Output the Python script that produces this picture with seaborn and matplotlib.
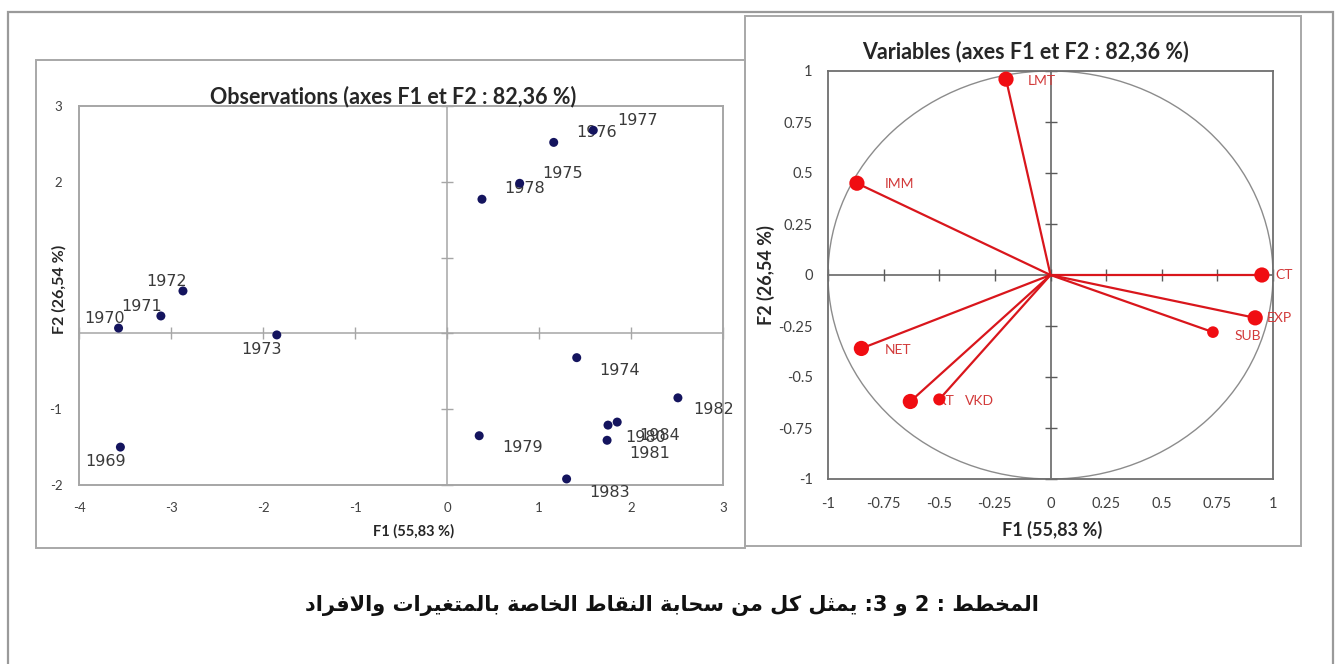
import matplotlib
matplotlib.use("Agg")
import matplotlib.pyplot as plt
from matplotlib.patches import Rectangle, Ellipse
import numpy as np
import pandas as pd
import seaborn as sns

# ---- Observations on the first factorial plane (F1, F2) ----
years = ["1969", "1970", "1971", "1972", "1973", "1974", "1975", "1976",
         "1977", "1978", "1979", "1980", "1981", "1982", "1983", "1984"]
obs_f1 = [-3.55, -3.57, -3.11, -2.87, -1.85, 1.41, 0.79, 1.16,
          1.59, 0.38, 0.35, 1.75, 1.74, 2.51, 1.30, 1.85]
obs_f2 = [-1.50, 0.07, 0.23, 0.56, -0.02, -0.32, 1.98, 2.52,
          2.68, 1.77, -1.35, -1.21, -1.41, -0.85, -1.92, -1.17]

# ---- Variables on the correlation circle ----
var_names = ["LMT", "IMM", "CT", "EXP", "SUB", "NET", "RT", "VKD"]
var_f1 = [-0.20, -0.87, 0.95, 0.92, 0.73, -0.85, -0.63, -0.50]
var_f2 = [0.96, 0.45, 0.00, -0.21, -0.28, -0.36, -0.62, -0.61]

obs_xticks = [-4, -3, -2, -1, 0, 1, 2, 3]
obs_yticks = [-2, -1, 0, 1, 2, 3]
# the y-axis title sits over the 0 and 1 labels, so those stay blank
obs_ytick_labels = ["-2", "-1", "", "", "2", "3"]
var_ticks = [-1, -0.75, -0.5, -0.25, 0, 0.25, 0.5, 0.75, 1]
var_tick_labels = ["-1", "-0.75", "-0.5", "-0.25", "0", "0.25", "0.5", "0.75", "1"]

title_obs = "Observations (axes F1 et F2 : 82,36 %)"
title_var = "Variables (axes F1 et F2 : 82,36 %)"
xlabel = "F1 (55,83 %)"
ylabel = "F2 (26,54 %)"
caption = "المخطط : 2 و 3: يمثل كل من سحابة النقاط الخاصة بالمتغيرات والافراد"

# label placement (pixel offsets from each point)
obs_label_offsets = [(-15, -14), (-14, 10), (-19, 9), (-16, 9), (-15, -15),
                     (43, -13), (43, 10), (43, 10), (44, 10), (43, 11),
                     (43, -12), (38, -12), (43, -13), (36, -12), (43, -14),
                     (42, -13)]
var_label_offsets = [(22, -2), (28, -1), (13, 0), (12, 0), (22, -4),
                     (23, -2), (27, 0), (26, -2)]
var_marker_sizes = [120, 120, 120, 120, 70, 120, 120, 75]

# ---- Arabic contextual shaping for the caption ----
_FORMS = {
    "\u0627": (0xFE8D, 0xFE8E),
    "\u0628": (0xFE8F, 0xFE90, 0xFE91, 0xFE92),
    "\u0629": (0xFE93, 0xFE94),
    "\u062A": (0xFE95, 0xFE96, 0xFE97, 0xFE98),
    "\u062B": (0xFE99, 0xFE9A, 0xFE9B, 0xFE9C),
    "\u062D": (0xFEA1, 0xFEA2, 0xFEA3, 0xFEA4),
    "\u062E": (0xFEA5, 0xFEA6, 0xFEA7, 0xFEA8),
    "\u062F": (0xFEA9, 0xFEAA),
    "\u0631": (0xFEAD, 0xFEAE),
    "\u0633": (0xFEB1, 0xFEB2, 0xFEB3, 0xFEB4),
    "\u0635": (0xFEB9, 0xFEBA, 0xFEBB, 0xFEBC),
    "\u0637": (0xFEC1, 0xFEC2, 0xFEC3, 0xFEC4),
    "\u063A": (0xFECD, 0xFECE, 0xFECF, 0xFED0),
    "\u0641": (0xFED1, 0xFED2, 0xFED3, 0xFED4),
    "\u0642": (0xFED5, 0xFED6, 0xFED7, 0xFED8),
    "\u0643": (0xFED9, 0xFEDA, 0xFEDB, 0xFEDC),
    "\u0644": (0xFEDD, 0xFEDE, 0xFEDF, 0xFEE0),
    "\u0645": (0xFEE1, 0xFEE2, 0xFEE3, 0xFEE4),
    "\u0646": (0xFEE5, 0xFEE6, 0xFEE7, 0xFEE8),
    "\u0648": (0xFEED, 0xFEEE),
    "\u064A": (0xFEF1, 0xFEF2, 0xFEF3, 0xFEF4),
}


def shape_arabic(text):
    def dual(c):
        return c in _FORMS and len(_FORMS[c]) == 4

    out, i, n = [], 0, len(text)
    while i < n:
        c = text[i]
        if c not in _FORMS:
            out.append(c)
            i += 1
            continue
        link_prev = i > 0 and dual(text[i - 1])
        if c == "\u0644" and i + 1 < n and text[i + 1] == "\u0627":
            out.append(chr(0xFEFC if link_prev else 0xFEFB))
            i += 2
            continue
        link_next = dual(c) and i + 1 < n and text[i + 1] in _FORMS
        f = _FORMS[c]
        if link_prev and link_next:
            g = f[3]
        elif link_prev:
            g = f[1]
        elif link_next:
            g = f[2]
        else:
            g = f[0]
        out.append(chr(g))
        i += 1
    return "".join(reversed(out))


sns.set_style("white")
plt.rcParams["font.family"] = ["Lato", "DejaVu Sans"]
plt.rcParams["axes.unicode_minus"] = False

W, H = 1336, 664
fig = plt.figure(figsize=(W / 100, H / 100), dpi=100)
fig.patch.set_facecolor("white")


def fbox(x0, y0, x1, y1):
    return [x0 / W, 1 - y1 / H, (x1 - x0) / W, (y1 - y0) / H]


def frame(x0, y0, x1, y1, color, lw):
    fig.patches.append(Rectangle((x0 / W, 1 - y1 / H), (x1 - x0) / W, (y1 - y0) / H,
                                 transform=fig.transFigure, fill=False,
                                 edgecolor=color, linewidth=lw, zorder=0))


# page and chart boxes
frame(8, 12, 1333, 700, "#9a9a9a", 1.6)
frame(36, 60, 745, 548, "#a8a8a8", 1.4)
frame(745, 16, 1301, 546, "#a8a8a8", 1.4)


def cross_axes(ax, xticks, yticks, xlim, ylim, color, length):
    """Draw the zero axes with crossing tick marks, Excel style."""
    fy = (0 - ylim[0]) / (ylim[1] - ylim[0])
    fx = (0 - xlim[0]) / (xlim[1] - xlim[0])
    sx = ax.secondary_xaxis(fy)
    sx.set_xticks(xticks)
    sx.tick_params(direction="inout", length=length, width=1, color=color,
                   labelbottom=False, labeltop=False)
    for s in sx.spines.values():
        s.set_color(color)
        s.set_linewidth(1.1)
    sy = ax.secondary_yaxis(fx)
    sy.set_yticks(yticks)
    sy.tick_params(direction="inout", length=length, width=1, color=color,
                   labelleft=False, labelright=False)
    for s in sy.spines.values():
        s.set_color(color)
        s.set_linewidth(1.1)


# ================= Observations =================
ax1 = fig.add_axes(fbox(79, 106, 723, 485))
obs_df = pd.DataFrame({"year": years, "F1": obs_f1, "F2": obs_f2})
xl1, yl1 = (-4, 3), (-2, 3)
ax1.set_xlim(*xl1)
ax1.set_ylim(*yl1)
sns.scatterplot(data=obs_df, x="F1", y="F2", ax=ax1, color="#14145e",
                s=42, edgecolor="none", zorder=4, legend=False)
for (yr, x, y), off in zip(obs_df[["year", "F1", "F2"]].itertuples(index=False),
                           obs_label_offsets):
    ax1.annotate(yr, (x, y), xytext=off, textcoords="offset pixels",
                 ha="center", va="center", fontsize=11.5, color="#3a3a3a",
                 family="DejaVu Sans", zorder=3)
ax1.set_xticks(obs_xticks)
ax1.set_yticks(obs_yticks)
ax1.set_yticklabels(obs_ytick_labels)
ax1.tick_params(length=0, labelsize=9.5, labelcolor="#404040", pad=12)
for s in ax1.spines.values():
    s.set_color("#a6a6a6")
    s.set_linewidth(1.4)
cross_axes(ax1, obs_xticks, obs_yticks, xl1, yl1, "#a6a6a6", 8)
ax1.set_xlabel("")
ax1.set_ylabel("")
ax1.text(0.488, 1.024, title_obs, transform=ax1.transAxes, ha="center",
         va="center", fontsize=15.5, fontweight="bold", color="#262626")
ax1.text(0.519, -0.121, xlabel, transform=ax1.transAxes, ha="center",
         va="center", fontsize=10.5, fontweight="bold", color="#262626")
ax1.text(-0.030, 0.515, ylabel, transform=ax1.transAxes, ha="center",
         va="center", rotation=90, fontsize=11.5, fontweight="bold",
         color="#262626")

# ================= Variables =================
ax2 = fig.add_axes(fbox(828, 71, 1273, 479))
var_df = pd.DataFrame({"name": var_names, "F1": var_f1, "F2": var_f2,
                       "size": var_marker_sizes})
xl2, yl2 = (-1, 1), (-1, 1)
ax2.set_xlim(*xl2)
ax2.set_ylim(*yl2)
ax2.add_patch(Ellipse((0, 0), 2, 2, fill=False, edgecolor="#8c8c8c",
                      linewidth=1.0, zorder=2))
for x, y in zip(var_df["F1"], var_df["F2"]):
    ax2.plot([0, x], [0, y], color="#d9161c", linewidth=1.6, zorder=3,
             solid_capstyle="round")
sns.scatterplot(data=var_df, x="F1", y="F2", size="size", sizes=(70, 120),
                ax=ax2, color="#f00d12", edgecolor="none", zorder=5, legend=False)
for (nm, x, y), off in zip(var_df[["name", "F1", "F2"]].itertuples(index=False),
                           var_label_offsets):
    ax2.annotate(nm, (x, y), xytext=off, textcoords="offset pixels",
                 ha="left", va="center", fontsize=10, color="#d23a3a", zorder=4)
ax2.set_xticks(var_ticks)
ax2.set_xticklabels(var_tick_labels)
ax2.set_yticks(var_ticks)
ax2.set_yticklabels(var_tick_labels)
ax2.tick_params(length=0, labelsize=10.5, labelcolor="#404040", pad=13)
ax2.tick_params(axis="y", pad=11)
for s in ax2.spines.values():
    s.set_color("#6e6e6e")
    s.set_linewidth(1.3)
cross_axes(ax2, var_ticks, var_ticks, xl2, yl2, "#5a5a5a", 8)
ax2.set_xlabel("")
ax2.set_ylabel("")
ax2.text(0.443, 1.047, title_var, transform=ax2.transAxes, ha="center",
         va="center", fontsize=15.5, fontweight="bold", color="#262626")
ax2.text(0.503, -0.125, xlabel, transform=ax2.transAxes, ha="center",
         va="center", fontsize=13, fontweight="bold", color="#262626")
ax2.text(-0.14, 0.5, ylabel, transform=ax2.transAxes, ha="center",
         va="center", rotation=90, fontsize=13, fontweight="bold",
         color="#262626")

# ================= Caption =================
fig.text(672 / W, 1 - 605 / H, shape_arabic(caption), ha="center", va="center",
         fontsize=15, fontweight="bold", color="#111111",
         family=["DejaVu Sans"])

fig.savefig("out.png", dpi=100, facecolor="white")
